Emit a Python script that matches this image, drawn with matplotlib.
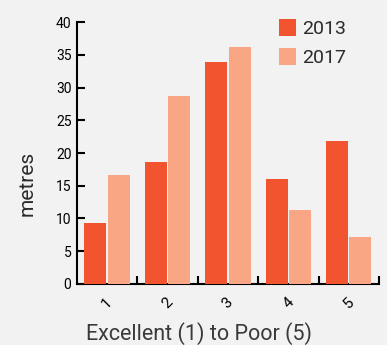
import numpy as np
import matplotlib.pyplot as plt

# Values
categories = ['1', '2', '3', '4', '5']
vals_2013 = [9.3, 18.6, 33.9, 16.0, 21.8]
vals_2017 = [16.6, 28.7, 36.2, 11.3, 7.2]

bg = '#f2f2f2'
c2013 = '#f25430'
c2017 = '#f8a684'

fig = plt.figure(figsize=(3.87, 3.45), dpi=100, facecolor=bg)
ax = fig.add_axes([0.199, 0.177, 0.78, 0.759], facecolor=bg)

x = np.arange(len(categories))
w = 0.365
ax.bar(x - 0.195, vals_2013, w, color=c2013, label='2013', zorder=3)
ax.bar(x + 0.195, vals_2017, w, color=c2017, label='2017', zorder=3)

ax.set_xlim(-0.5, len(categories) - 0.5)
ax.set_ylim(0, 40)
ax.set_yticks(np.arange(0, 41, 5))

# boundary ticks (major, no labels), category labels on minor ticks
ax.set_xticks(np.arange(0.5, len(categories) + 0.5, 1))
ax.set_xticklabels([])
ax.set_xticks(x, minor=True)
ax.set_xticklabels(categories, minor=True, rotation=45, fontsize=11,
                   family='Roboto', ha='center', va='top')
ax.tick_params(axis='x', which='major', direction='in', length=6, width=1.5)
ax.tick_params(axis='x', which='minor', length=0, pad=8)
ax.tick_params(axis='y', direction='in', length=6, width=1.5, labelsize=10, pad=4)
for lab in ax.get_yticklabels():
    lab.set_family('Roboto')

for s in ['top', 'right']:
    ax.spines[s].set_visible(False)
for s in ['left', 'bottom']:
    ax.spines[s].set_linewidth(1.5)

# axis titles sit off-centre in the reference, so place them on the figure
fig.text(27 / 387, 0.467, 'metres', rotation=90, fontsize=15, family='Roboto',
         color='#2b2b2b', ha='center', va='center')
fig.text(199 / 387, 0.032, 'Excellent (1) to Poor (5)', fontsize=15.5,
         family='Roboto', color='#3a3a3a', ha='center', va='center')

leg = ax.legend(loc='upper right', bbox_to_anchor=(0.95, 1.08), frameon=False,
                fontsize=14, handlelength=0.9, handleheight=1.0,
                handletextpad=0.3, labelspacing=0.5)
for t in leg.get_texts():
    t.set_family('Roboto')
    t.set_color('#2b2b2b')

fig.savefig('out.png', dpi=100, facecolor=bg)
